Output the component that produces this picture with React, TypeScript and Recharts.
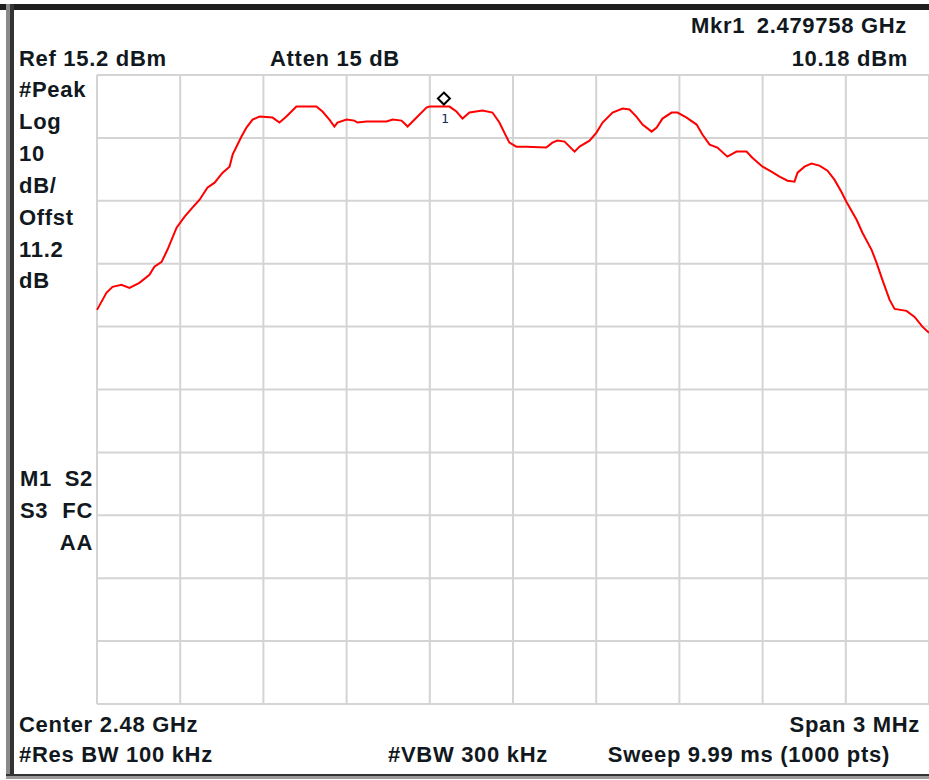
import React from "react";
import { LineChart, Line, XAxis, YAxis, CartesianGrid, ReferenceDot } from "recharts";

// trace: frequency (MHz) and level (dBm)
const freqMHz = [
  2478.5, 2478.52, 2478.534, 2478.556, 2478.588, 2478.617, 2478.653, 2478.689, 2478.707, 2478.733,
  2478.754, 2478.787, 2478.816, 2478.844, 2478.87, 2478.898, 2478.924, 2478.953, 2478.978, 2478.989,
  2479.021, 2479.039, 2479.061, 2479.086, 2479.133, 2479.158, 2479.183, 2479.219, 2479.291, 2479.313,
  2479.338, 2479.356, 2479.367, 2479.4, 2479.428, 2479.439, 2479.472, 2479.544, 2479.566, 2479.598,
  2479.609, 2479.62, 2479.638, 2479.688, 2479.699, 2479.758, 2479.771, 2479.796, 2479.818, 2479.843,
  2479.89, 2479.926, 2479.951, 2479.976, 2479.987, 2480.012, 2480.048, 2480.12, 2480.142, 2480.16,
  2480.186, 2480.222, 2480.24, 2480.276, 2480.301, 2480.323, 2480.359, 2480.395, 2480.42, 2480.445,
  2480.467, 2480.5, 2480.518, 2480.539, 2480.572, 2480.593, 2480.626, 2480.662, 2480.683, 2480.709,
  2480.737, 2480.773, 2480.806, 2480.842, 2480.863, 2480.9, 2480.932, 2480.961, 2480.99, 2481.015,
  2481.026, 2481.051, 2481.076, 2481.105, 2481.134, 2481.159, 2481.184, 2481.202, 2481.239, 2481.26,
  2481.293, 2481.311, 2481.332, 2481.358, 2481.376, 2481.419, 2481.448, 2481.477, 2481.5,
];
const levelDbm = [
  -22.14, -20.55, -19.43, -18.48, -18.16, -18.64, -17.84, -16.57, -15.29, -14.5,
  -12.59, -9.08, -7.33, -5.9, -4.63, -2.71, -1.92, -0.33, 0.63, 2.54,
  5.41, 6.84, 8.11, 8.59, 8.43, 7.64, 8.59, 10.18, 10.18, 9.39,
  8.11, 7.0, 7.64, 8.11, 7.95, 7.64, 7.8, 7.8, 8.11, 7.95,
  7.48, 7.0, 7.8, 10.02, 10.18, 10.18, 10.18, 9.39, 8.27, 9.23,
  9.55, 9.23, 7.64, 5.41, 4.45, 3.81, 3.81, 3.66, 4.45, 4.77,
  4.61, 3.02, 3.81, 4.77, 6.04, 7.64, 9.23, 9.87, 9.71, 8.59,
  7.32, 6.2, 6.84, 8.27, 9.23, 9.23, 8.43, 7.32, 5.73, 4.13,
  3.66, 2.22, 3.02, 3.02, 2.06, 0.63, -0.17, -0.96, -1.6, -1.76,
  -0.33, 0.63, 1.11, 0.79, -0.01, -1.44, -3.35, -4.94, -7.81, -9.88,
  -12.59, -14.66, -17.36, -20.55, -21.98, -22.3, -23.26, -24.85, -25.8,
];

const freqTicks = [2478.5, 2478.8, 2479.1, 2479.4, 2479.7, 2480.0, 2480.3, 2480.6, 2480.9, 2481.2, 2481.5];
const levelTicks = [15.2, 5.2, -4.8, -14.8, -24.8, -34.8, -44.8, -54.8, -64.8, -74.8, -84.8];

const markerFreq = 2479.758;
const markerLevel = 10.18;

const topLeft = [
  { text: "Ref 15.2 dBm", x: 19, y: 66 },
  { text: "Atten 15 dB", x: 270, y: 66 },
];
const sideLabels = ["#Peak", "Log", "10", "dB/", "Offst", "11.2", "dB"];
const sideBaselines = [97, 129, 161, 193, 225, 257, 288];

const data = freqMHz.map((f, i) => ({ f, v: levelDbm[i] }));

const textStyle: React.CSSProperties = {
  fontFamily: "'Liberation Sans', Arial, sans-serif",
  fontWeight: 700,
  fontSize: 22,
  letterSpacing: 0.7,
  fill: "#111820",
};

const MarkerShape = (props: any) => {
  const { cx, cy } = props;
  const dy = cy - 8;
  return (
    <g>
      <polygon
        points={`${cx - 2},${dy - 6} ${cx + 4},${dy} ${cx - 2},${dy + 6} ${cx - 8},${dy}`}
        fill="#fff"
        stroke="#000"
        strokeWidth={2}
      />
      <text x={cx - 5} y={cy + 16} fontSize={13} fontFamily="'DejaVu Sans Mono', monospace" fill="#1a2a5a">
        1
      </text>
    </g>
  );
};

export default function App() {
  return (
    <div style={{ position: "absolute", left: 0, top: 0, width: 929, height: 780, background: "#fff" }}>
      <svg width={929} height={780} style={{ position: "absolute", left: 0, top: 0 }}>
        <rect x={0} y={4} width={929} height={6} fill="#1e1e1e" />
        <rect x={6} y={4} width={4} height={773} fill="#8a8a8a" />
        <rect x={10} y={4} width={4} height={773} fill="#333" />
        <rect x={6} y={774} width={923} height={2} fill="#333" />
        <rect x={6} y={776} width={923} height={3} fill="#9a9a9a" />
        <text x={691} y={33} style={textStyle}>Mkr1</text>
        <text x={907} y={33} textAnchor="end" style={textStyle}>2.479758 GHz</text>
        {topLeft.map((t) => (
          <text key={t.text} x={t.x} y={t.y} style={textStyle}>{t.text}</text>
        ))}
        <text x={908} y={66} textAnchor="end" style={textStyle}>10.18 dBm</text>
        {sideLabels.map((t, i) => (
          <text key={i} x={19} y={sideBaselines[i]} style={textStyle}>{t}</text>
        ))}
        <text x={20} y={486} style={textStyle}>M1</text>
        <text x={93} y={486} textAnchor="end" style={textStyle}>S2</text>
        <text x={20} y={518} style={textStyle}>S3</text>
        <text x={93} y={518} textAnchor="end" style={textStyle}>FC</text>
        <text x={93} y={550} textAnchor="end" style={textStyle}>AA</text>
        <text x={19} y={732} style={textStyle}>Center 2.48 GHz</text>
        <text x={920} y={732} textAnchor="end" style={textStyle}>Span 3 MHz</text>
        <text x={19} y={762} style={textStyle}>#Res BW 100 kHz</text>
        <text x={388} y={762} style={textStyle}>#VBW 300 kHz</text>
        <text x={890} y={762} textAnchor="end" style={textStyle}>Sweep 9.99 ms (1000 pts)</text>
      </svg>
      <div style={{ position: "absolute", left: 0, top: 0 }}>
        <LineChart width={929} height={780} data={data} margin={{ top: 75, right: 0, bottom: 76, left: 97 }}>
          <CartesianGrid stroke="#d4d4d4" strokeWidth={2} />
          <XAxis dataKey="f" type="number" domain={[2478.5, 2481.5]} ticks={freqTicks} hide />
          <YAxis type="number" domain={[-84.8, 15.2]} ticks={levelTicks} hide />
          <Line
            dataKey="v"
            type="linear"
            stroke="#ff0000"
            strokeWidth={2}
            dot={false}
            isAnimationActive={false}
          />
          <ReferenceDot x={markerFreq} y={markerLevel} shape={MarkerShape} />
        </LineChart>
      </div>
    </div>
  );
}
